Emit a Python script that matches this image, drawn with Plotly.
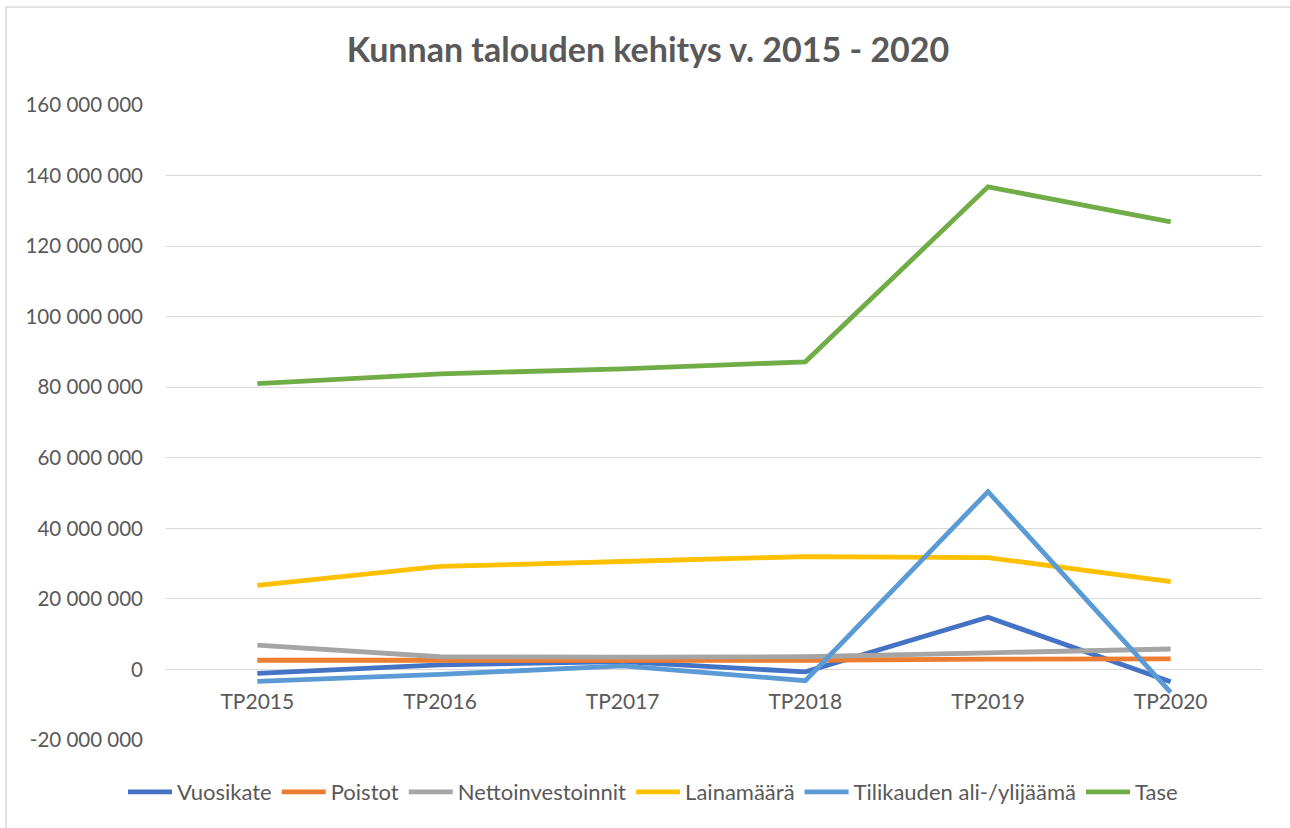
import plotly.graph_objects as go

categories = ["TP2015", "TP2016", "TP2017", "TP2018", "TP2019", "TP2020"]

vuosikate = [-1.1e6, 1.3e6, 2.2e6, -0.7e6, 14.8e6, -3.5e6]
poistot = [2.6e6, 2.5e6, 2.6e6, 2.6e6, 2.9e6, 3.0e6]
nettoinvestoinnit = [6.9e6, 3.6e6, 3.5e6, 3.6e6, 4.7e6, 5.8e6]
lainamaara = [23.8e6, 29.2e6, 30.6e6, 32.0e6, 31.7e6, 24.9e6]
tilikauden = [-3.4e6, -1.4e6, 1.0e6, -3.2e6, 50.4e6, -6.5e6]
tase = [81.0e6, 83.8e6, 85.2e6, 87.2e6, 136.8e6, 126.9e6]

series = [
    ("Vuosikate", vuosikate, "#4472C4"),
    ("Poistot", poistot, "#ED7D31"),
    ("Nettoinvestoinnit", nettoinvestoinnit, "#A5A5A5"),
    ("Lainamäärä", lainamaara, "#FFC000"),
    ("Tilikauden ali-/ylijäämä", tilikauden, "#5B9BD5"),
    ("Tase", tase, "#70AD47"),
]

y_tickvals = [-20e6, 0, 20e6, 40e6, 60e6, 80e6, 100e6, 120e6, 140e6, 160e6]
y_ticktext = ["-20 000 000", "0", "20 000 000", "40 000 000", "60 000 000",
              "80 000 000", "100 000 000", "120 000 000", "140 000 000", "160 000 000"]

FONT = "Lato"
GRAY = "#595959"

fig = go.Figure()
for name, vals, color in series:
    fig.add_trace(go.Scatter(
        x=categories, y=vals, name=name, mode="lines",
        line=dict(color=color, width=4.8),
    ))

ymin, ymax = -20e6, 160e6
fig.update_layout(
    width=1290, height=828,
    margin=dict(l=166, r=28, t=105, b=88, autoexpand=False),
    paper_bgcolor="white", plot_bgcolor="white",
    title=dict(text="<b>Kunnan talouden kehitys v. 2015 - 2020</b>",
               x=(648 - 166) / 1096, xref="paper", xanchor="center",
               y=1 - 50 / 828, yanchor="middle",
               font=dict(family=FONT, size=34, color=GRAY)),
    font=dict(family=FONT, size=20, color=GRAY),
    legend=dict(orientation="h", x=(653 - 166) / 1096, xanchor="center", y=-52 / 635,
                yanchor="middle", font=dict(family=FONT, size=22, color=GRAY),
                itemwidth=44, tracegroupgap=0),
    showlegend=True,
    xaxis=dict(
        type="category", range=[-0.5, 5.5], showgrid=False,
        showline=False, zeroline=False, ticks="", automargin=False,
        anchor="free", position=(0 - ymin) / (ymax - ymin),
        ticklabelstandoff=18,
        tickfont=dict(family=FONT, size=21, color=GRAY),
    ),
    yaxis=dict(
        range=[ymin, ymax], tickvals=y_tickvals, ticktext=y_ticktext,
        showgrid=True, gridcolor="#D9D9D9", gridwidth=1.3,
        zeroline=False, showline=False, ticks="", automargin=False,
        ticklabelstandoff=22,
        tickfont=dict(family=FONT, size=20.5, color=GRAY),
    ),
    shapes=[dict(type="rect", xref="paper", yref="paper",
                 x0=-160 / 1096, x1=1.1, y0=-0.2, y1=1 + 98 / 635,
                 line=dict(color="#D9D9D9", width=1.5), layer="below")],
)

fig.write_html(
    "out.html",
    config={"displayModeBar": False},
    post_script="document.body.style.margin='0';document.body.style.overflow='hidden';",
)
